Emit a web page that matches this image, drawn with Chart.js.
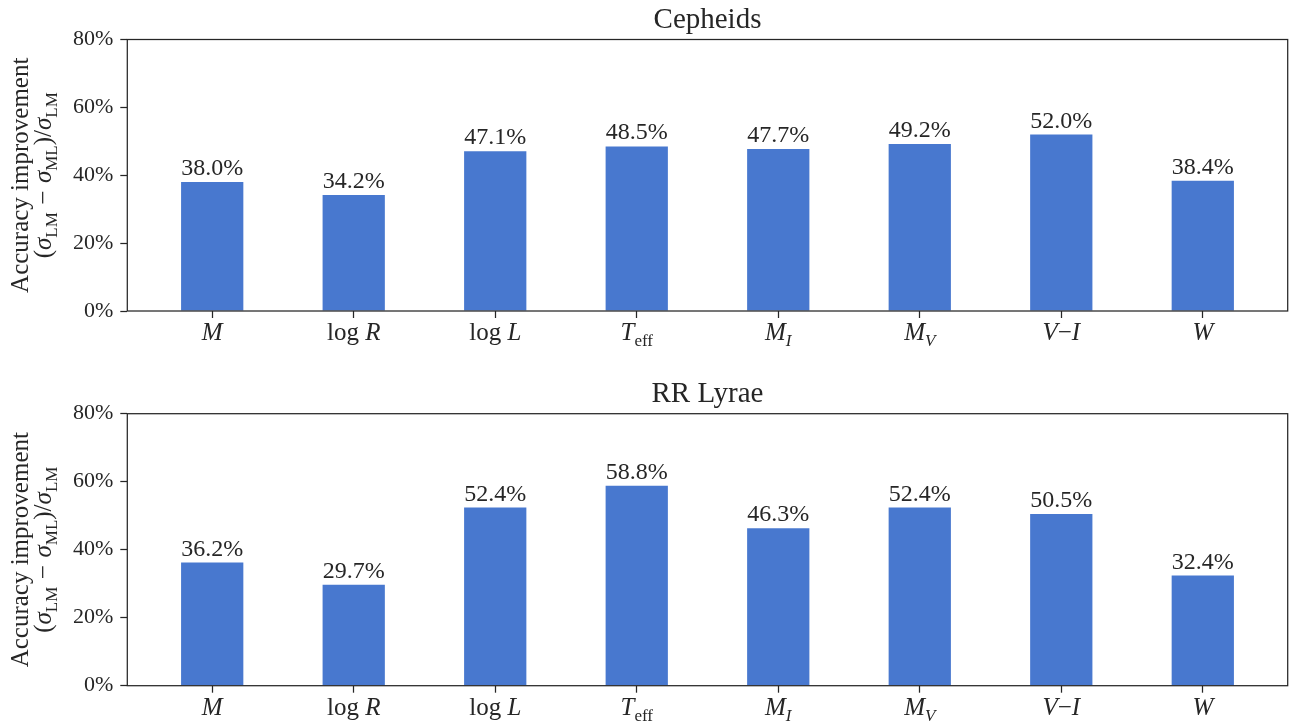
<!DOCTYPE html>
<html><head><meta charset="utf-8">
<script src="https://cdn.jsdelivr.net/npm/chart.js@4.4.1/dist/chart.umd.min.js"></script>
<style>html,body{margin:0;padding:0;background:#fff;overflow:hidden}canvas{display:block}</style>
</head><body>
<canvas id="c1" width="1298" height="362"></canvas>
<canvas id="c2" width="1298" height="362"></canvas>
<script>
const categories = ['M', 'log R', 'log L', 'T_{eff}', 'M_I', 'M_V', 'V−I', 'W'];
const cepheidValues = [38.0, 34.2, 47.1, 48.5, 47.7, 49.2, 52.0, 38.4];
const rrLyraeValues = [36.2, 29.7, 52.4, 58.8, 46.3, 52.4, 50.5, 32.4];
const yTicks = [0, 20, 40, 60, 80];
const panelTitles = ['Cepheids', 'RR Lyrae'];
const yLabelLines = ['Accuracy improvement', '(σ_{LM} − σ_{ML})/σ_{LM}'];

const FONT = '"Liberation Serif", "Times New Roman", serif';
const INK = '#262626';

function parseMath(s) {
  const segs = []; let i = 0;
  while (i < s.length) {
    if (s.startsWith('log', i)) {
      segs.push({t: 'log', it: false, sub: false});
      segs.push({t: ' ', it: false, sub: false, w: 0.25});
      i += 3; if (s[i] === ' ') i++; continue;
    }
    const ch = s[i];
    if (ch === '_') {
      let g;
      if (s[i + 1] === '{') { const j = s.indexOf('}', i); g = s.slice(i + 2, j); i = j + 1; }
      else { g = s[i + 1]; i += 2; }
      segs.push({t: g, it: g.length === 1, sub: true});
      continue;
    }
    if (/[A-Za-zα-ω]/.test(ch)) { segs.push({t: ch, it: true, sub: false}); i++; continue; }
    if (ch === ' ') { segs.push({t: ' ', it: false, sub: false, w: 0.3}); i++; continue; }
    segs.push({t: ch, it: false, sub: false}); i++;
  }
  return segs;
}

function drawMath(ctx, str, x, y, size, align) {
  const segs = parseMath(str);
  let total = 0;
  segs.forEach(sg => {
    const fs = sg.sub ? size * 0.68 : size;
    sg.font = (sg.it ? 'italic ' : '') + fs + 'px ' + FONT;
    ctx.font = sg.font;
    sg.width = sg.w !== undefined ? sg.w * size : ctx.measureText(sg.t).width;
    total += sg.width;
  });
  let cx = align === 'center' ? x - total / 2 : x;
  ctx.textAlign = 'left';
  segs.forEach(sg => {
    ctx.font = sg.font;
    ctx.fillText(sg.t, cx, y + (sg.sub ? size * 0.25 : 0));
    cx += sg.width;
  });
}

const decor = {
  id: 'decor',
  afterDatasetsDraw(chart, args, opts) {
    const {ctx, chartArea: a, scales: {x}} = chart;
    const vals = opts.values;
    ctx.save();
    ctx.strokeStyle = INK; ctx.lineWidth = 1.25;
    ctx.strokeRect(a.left, a.top, a.right - a.left, a.bottom - a.top);
    ctx.fillStyle = INK;
    // value labels
    ctx.font = '24px ' + FONT; ctx.textAlign = 'center'; ctx.textBaseline = 'alphabetic';
    chart.getDatasetMeta(0).data.forEach((bar, i) => {
      ctx.fillText(vals[i].toFixed(1) + '%', bar.x, bar.y - 7);
    });
    // x category labels
    categories.forEach((c, i) => drawMath(ctx, c, x.getPixelForValue(i), a.bottom + 29, 25, 'center'));
    // title
    ctx.font = '29px ' + FONT; ctx.textAlign = 'center';
    ctx.fillText(opts.title, (a.left + a.right) / 2, a.top - 12);
    // y label
    ctx.translate(0, (a.top + a.bottom) / 2);
    ctx.rotate(-Math.PI / 2);
    ctx.font = '25px ' + FONT; ctx.textAlign = 'center';
    ctx.fillText(yLabelLines[0], 0, 28);
    drawMath(ctx, yLabelLines[1], 0, 51, 25, 'center');
    ctx.restore();
  }
};

function makeChart(id, values, title, padTop, xHeight) {
  const gridOpts = {display: true, offset: false, drawOnChartArea: false, drawTicks: true,
    tickLength: 7, tickWidth: 1.25, tickColor: INK};
  return new Chart(document.getElementById(id), {
    type: 'bar',
    data: {datasets: [{
      data: values.map((v, i) => ({x: i, y: v})),
      backgroundColor: '#4878cf', borderWidth: 0,
      categoryPercentage: 0.44, barPercentage: 1
    }]},
    options: {
      responsive: false, animation: false, devicePixelRatio: 1,
      layout: {padding: {top: padTop, right: 10.3, left: 0, bottom: 0}},
      plugins: {legend: {display: false}, tooltip: {enabled: false},
        decor: {title: title, values: values}},
      scales: {
        x: {type: 'linear', min: -0.6, max: 7.6, offset: false,
          afterBuildTicks: s => { s.ticks = categories.map((c, i) => ({value: i})); },
          afterFit: s => { s.height = xHeight; },
          grid: gridOpts, border: {display: false},
          ticks: {callback: () => '', autoSkip: false, maxRotation: 0}},
        y: {min: 0, max: 80,
          afterBuildTicks: s => { s.ticks = yTicks.map(v => ({value: v})); },
          afterFit: s => { s.width = 127.3; },
          grid: gridOpts, border: {display: false},
          ticks: {callback: v => v + '%', font: {family: FONT, size: 22}, color: INK, padding: 7}}
      }
    },
    plugins: [decor]
  });
}

makeChart('c1', cepheidValues, panelTitles[0], 39.5, 51);
makeChart('c2', rrLyraeValues, panelTitles[1], 51.7, 38.3);
</script>
</body></html>
